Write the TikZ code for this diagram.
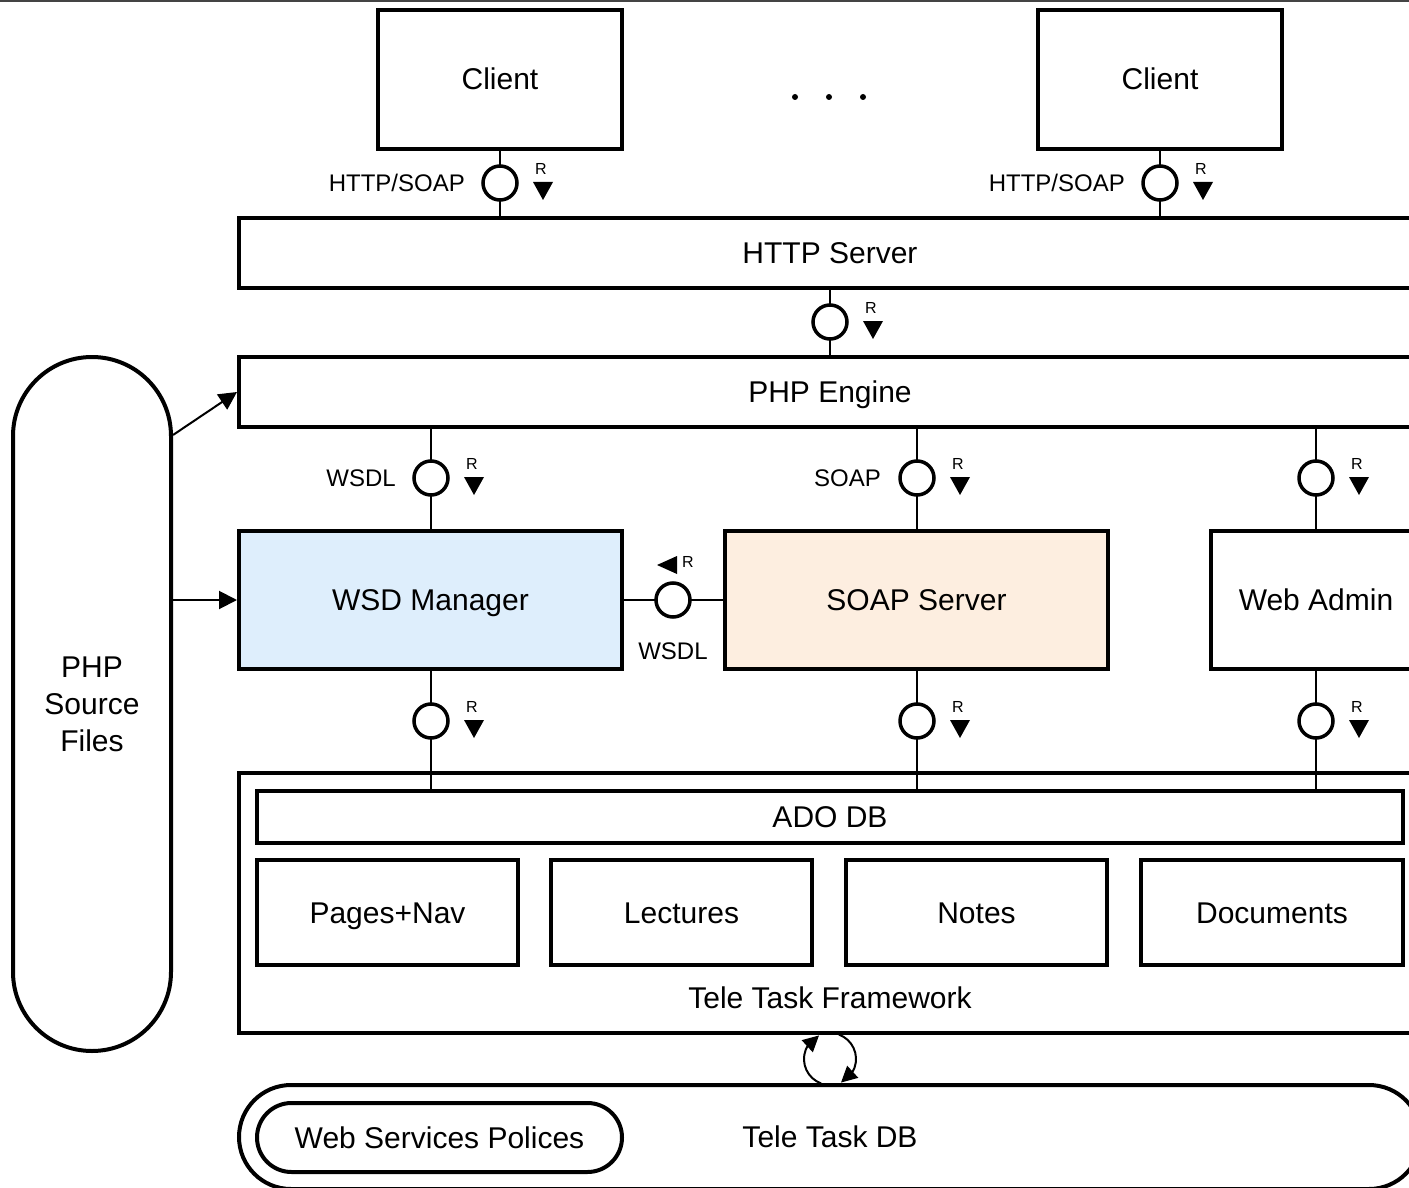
\documentclass[tikz,border=0pt]{standalone}
\usepackage{fontspec}
\setmainfont{Liberation Sans}
\usetikzlibrary{arrows.meta,calc,bending}
\definecolor{wsdblue}{RGB}{222,238,252}
\definecolor{soaporange}{RGB}{253,238,224}
\definecolor{topgray}{RGB}{68,68,68}
\begin{document}
\begin{tikzpicture}[x=1pt,y=-1pt,
  box/.style={draw, line width=4pt, rectangle, inner sep=0pt, font=\fontsize{30}{37}\selectfont},
  tb/.style={box, text height=21pt, text depth=0pt},
  ball/.style={draw, circle, line width=3.5pt, fill=white, minimum size=34pt, inner sep=0pt},
  stem/.style={line width=2pt},
  lbl/.style={font=\fontsize{24}{28}\selectfont, inner sep=0pt},
  rlab/.style={font=\fontsize{16}{18}\selectfont, inner sep=0pt},
  big/.style={font=\fontsize{30}{36}\selectfont, inner sep=0pt, text height=21pt, text depth=0pt},
  arr/.style={line width=2pt, -{Triangle[length=18pt,width=18pt]}},
  cyc/.style={line width=2pt, -{Triangle[length=16pt,width=16pt,flex]}},
  rdown/.pic={\fill (-10,0)--(10,0)--(0,18)--cycle; \node[rlab] at (-2,-13) {R};},
]
\useasboundingbox (0,0) rectangle (1409,1188);
\clip (0,0) rectangle (1409,1188);
\draw[line width=2pt, topgray] (0,1) -- (1409,1);

% boxes
\node[tb, minimum width=244, minimum height=139] (client1) at (500,79.5) {Client};
\node[tb, minimum width=244, minimum height=139] (client2) at (1160,79.5) {Client};
\node[tb, minimum width=1182, minimum height=70] (http) at (830,253) {HTTP Server};
\node[tb, minimum width=1182, minimum height=70] (phpe) at (830,392) {PHP Engine};
\node[tb, fill=wsdblue, minimum width=383, minimum height=138] (wsd) at (430.5,600) {WSD Manager};
\node[tb, fill=soaporange, minimum width=383, minimum height=138] (soap) at (916.5,600) {SOAP Server};
\node[tb, minimum width=210, minimum height=138] (webadmin) at (1316,600) {Web Admin};
\node[box, minimum width=1182, minimum height=260] (fw) at (830,903) {};
\node[big] (fwlabel) at (830,998) {Tele Task Framework};
\node[tb, minimum width=1146, minimum height=52] (ado) at (830,817) {ADO DB};
\node[tb, minimum width=261, minimum height=105] (pages) at (387.5,912.5) {Pages+Nav};
\node[tb, minimum width=261, minimum height=105] (lect) at (681.5,912.5) {Lectures};
\node[tb, minimum width=261, minimum height=105] (notes) at (976.5,912.5) {Notes};
\node[tb, minimum width=262, minimum height=105] (docs) at (1272,912.5) {Documents};
\node[box, rounded corners=52pt, minimum width=1182, minimum height=104] (db) at (830,1137) {};
\node[big] (dblabel) at (830,1137) {Tele Task DB};
\node[tb, rounded corners=34.5pt, minimum width=365, minimum height=69] (wsp) at (439.5,1137.5) {Web Services Polices};
\node[box, rounded corners=79pt, minimum width=158, minimum height=694, align=center] (phpsrc) at (92,704) {PHP\\Source\\Files};

% dots
\fill (795,97) circle[radius=3];
\fill (829,97) circle[radius=3];
\fill (863,97) circle[radius=3];

% arrows from PHP source files
\draw[arr] ([yshift=-80pt]phpsrc.north east) -- (phpe.west);
\draw[arr] (phpsrc.east |- wsd.west) -- (wsd.west);

% stems
\draw[stem] (client1.south) -- (client1.south |- http.north);
\draw[stem] (client2.south) -- (client2.south |- http.north);
\draw[stem] (http.south) -- (phpe.north);
\draw[stem] (wsd.north |- phpe.south) -- (wsd.north);
\draw[stem] (soap.north |- phpe.south) -- (soap.north);
\draw[stem] (webadmin.north |- phpe.south) -- (webadmin.north);
\draw[stem] (wsd.south) -- (wsd.south |- ado.north);
\draw[stem] (soap.south) -- (soap.south |- ado.north);
\draw[stem] (webadmin.south) -- (webadmin.south |- ado.north);
\draw[stem] (wsd.east) -- (soap.west);

% balls
\node[ball] (b1) at (500,183) {};
\node[ball] (b2) at (1160,183) {};
\node[ball] (b3) at (830,322) {};
\node[ball] (b4) at (431,478) {};
\node[ball] (b5) at (917,478) {};
\node[ball] (b6) at (1316,478) {};
\node[ball] (b7) at (431,721) {};
\node[ball] (b8) at (917,721) {};
\node[ball] (b9) at (1316,721) {};
\node[ball] (bh) at (673,600) {};

% R marks
\foreach \b in {b1,b2,b3,b4,b5,b6,b7,b8,b9}{
  \pic at ($(\b)+(43,-1)$) {rdown};
}
\fill ($(bh)+(-16,-35)$) -- ($(bh)+(4,-44)$) -- ($(bh)+(4,-26)$) -- cycle;
\node[rlab] (rh) at ($(bh)+(15,-38)$) {R};

% interface labels
\node[lbl, anchor=east] (l1) at (465,183) {HTTP/SOAP};
\node[lbl, anchor=east] (l2) at (1125,183) {HTTP/SOAP};
\node[lbl, anchor=east] (l4) at (396,478) {WSDL};
\node[lbl, anchor=east] (l5) at (881,478) {SOAP};
\node[lbl] (lh) at (673,651) {WSDL};

% cycle arrows between framework and DB
\coordinate (cc) at (830,1059);
\draw[cyc] ($(cc)+(110:26)$) arc[start angle=110, end angle=245, radius=26];
\draw[cyc] ($(cc)+(-70:26)$) arc[start angle=-70, end angle=65, radius=26];
\end{tikzpicture}
\end{document}
